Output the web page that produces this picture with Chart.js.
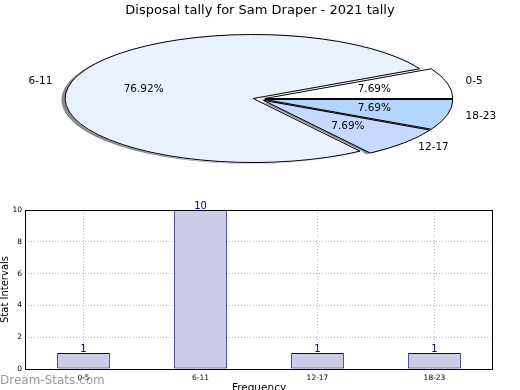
<!DOCTYPE html>
<html><head><meta charset="utf-8">
<script src="https://cdn.jsdelivr.net/npm/chart.js@4"></script>
<style>
html,body{margin:0;padding:0;background:#fff;width:520px;height:390px;overflow:hidden;}
#pieWrap{position:absolute;left:0;top:0;width:520px;height:190px;}
#barWrap{position:absolute;left:0;top:190px;width:520px;height:205px;}
canvas{display:block;}
</style></head><body>
<div id="pieWrap"><canvas id="pie" width="520" height="190"></canvas></div>
<div id="barWrap"><canvas id="bar" width="520" height="205"></canvas></div>
<script>
const categories = ['0-5', '6-11', '12-17', '18-23'];
const counts = [1, 10, 1, 1];
const yTicks = [0, 2, 4, 6, 8, 10];
const pieColors = ['#FFFFFF', '#EBF2FF', '#C6DAFF', '#B3D5FF'];
const chartTitle = 'Disposal tally for Sam Draper - 2021 tally';
const xTitle = 'Frequency';
const yTitle = 'Stat Intervals';
const watermark = 'Dream-Stats.com';

const FONT = "'DejaVu Sans', sans-serif";
const total = counts.reduce((a, b) => a + b, 0);
// pie drawn clockwise in Chart.js -> reverse order to emulate counter-clockwise
const pieOrder = [3, 2, 1, 0];
const CX = 259, CY = 99, K = 64 / 188, R = 188, EXPLODE = 6;

function arcShift(el) {
  const o = (el.options.offset || 0) / 4;
  const circ = el.endAngle - el.startAngle;
  const fix = 1 - Math.sin(Math.min(Math.PI, circ));
  const t = o * (1 + fix);
  const h = (el.startAngle + el.endAngle) / 2;
  return {dx: Math.cos(h) * t, dy: Math.sin(h) * t, h};
}
function setEllipse(ctx, el, sx, sy) {
  ctx.setTransform(1, 0, 0, 1, 0, 0);
  ctx.translate(CX + sx, CY + sy);
  ctx.scale(1, K);
  ctx.translate(-el.x, -el.y);
}
function wedgePath(ctx, el) {
  const s = arcShift(el);
  const x = el.x + s.dx, y = el.y + s.dy;
  ctx.beginPath();
  ctx.moveTo(x, y);
  ctx.arc(x, y, el.outerRadius, el.startAngle, el.endAngle);
  ctx.closePath();
}

const ellipsePlugin = {
  id: 'ellipse',
  beforeDatasetsDraw(chart) {
    const ctx = chart.ctx;
    const els = chart.getDatasetMeta(0).data;
    ctx.save();
    els.forEach(el => {
      setEllipse(ctx, el, -3.8, 1.3);
      wedgePath(ctx, el);
      ctx.fillStyle = 'rgba(60,60,62,0.6)';
      ctx.fill();
    });
    ctx.restore();
    ctx.save();
    setEllipse(ctx, els[0], 0, 0);
  },
  afterDatasetsDraw(chart) {
    const ctx = chart.ctx;
    ctx.restore();
    const els = chart.getDatasetMeta(0).data;
    ctx.save();
    els.forEach(el => {
      setEllipse(ctx, el, 0, 0);
      wedgePath(ctx, el);
      ctx.setTransform(1, 0, 0, 1, 0, 0);
      ctx.lineWidth = 1;
      ctx.strokeStyle = '#000';
      ctx.lineJoin = 'round';
      ctx.stroke();
    });
    ctx.setTransform(1, 0, 0, 1, 0, 0);
    ctx.font = '10.5px ' + FONT;
    ctx.fillStyle = '#000';
    ctx.textBaseline = 'middle';
    els.forEach((el, i) => {
      const s = arcShift(el);
      const r = el.outerRadius;
      const c = Math.cos(s.h), sn = Math.sin(s.h);
      const lx = CX + s.dx + 1.1 * r * c;
      const ly = CY + K * (s.dy + 1.1 * r * sn);
      ctx.textAlign = c > 0 ? 'left' : 'right';
      ctx.fillText(chart.data.labels[i], lx, ly);
      const px = CX + s.dx + 0.6 * r * c;
      const py = CY + K * (s.dy + 0.6 * r * sn);
      ctx.textAlign = 'center';
      const v = chart.data.datasets[0].data[i];
      ctx.fillText((v / total * 100).toFixed(2) + '%', px, py);
    });
    ctx.restore();
  }
};

new Chart(document.getElementById('pie'), {
  type: 'pie',
  data: {
    labels: pieOrder.map(i => categories[i]),
    datasets: [{
      data: pieOrder.map(i => counts[i]),
      backgroundColor: pieOrder.map(i => pieColors[i]),
      borderWidth: 0,
      clip: false,
      offset: c => {
        const circ = c.raw / total * 2 * Math.PI;
        const fix = 1 - Math.sin(Math.min(Math.PI, circ));
        return 4 * EXPLODE / (1 + fix);
      }
    }]
  },
  options: {
    responsive: false, animation: false, events: [],
    rotation: 90, radius: R,
    plugins: {
      legend: {display: false}, tooltip: {enabled: false},
      title: {display: true, text: chartTitle, color: '#000',
        font: {family: FONT, size: 13, weight: 'normal'}, padding: {top: 3, bottom: 0}}
    }
  },
  plugins: [ellipsePlugin]
});

const barPlugin = {
  id: 'barExtras',
  afterDatasetsDraw(chart) {
    const ctx = chart.ctx;
    const a = chart.chartArea;
    ctx.save();
    ctx.strokeStyle = '#000';
    ctx.lineWidth = 1;
    ctx.strokeRect(a.left + 0.5, a.top + 0.5, a.right - a.left - 1, a.bottom - a.top);
    ctx.font = '10px ' + FONT;
    ctx.fillStyle = '#000080';
    ctx.textAlign = 'center';
    ctx.textBaseline = 'alphabetic';
    chart.getDatasetMeta(0).data.forEach((el, i) => {
      ctx.fillText(String(counts[i]), el.x, el.y - 1.5);
    });
    ctx.restore();
  },
  afterDraw(chart) {
    const ctx = chart.ctx;
    ctx.save();
    ctx.font = '12px ' + FONT;
    ctx.fillStyle = 'rgba(128,128,128,0.8)';
    ctx.textAlign = 'left';
    ctx.textBaseline = 'alphabetic';
    ctx.fillText(watermark, 0, 194);
    ctx.restore();
  }
};

new Chart(document.getElementById('bar'), {
  type: 'bar',
  data: {
    labels: categories,
    datasets: [{
      data: counts,
      backgroundColor: 'rgb(204,204,230)',
      borderColor: '#000080',
      borderWidth: 1,
      borderSkipped: false,
      barPercentage: 0.45,
      categoryPercentage: 1
    }]
  },
  options: {
    responsive: false, animation: false, events: [],
    layout: {padding: {left: 0, right: 27, top: 20, bottom: 0}},
    scales: {
      x: {
        offset: true,
        grid: {offset: false, color: '#b8b8b8', drawTicks: false},
        border: {display: false, dash: [1, 2]},
        ticks: {font: {family: FONT, size: 7.5}, color: '#000', padding: 5},
        title: {display: true, text: xTitle, color: '#000', font: {family: FONT, size: 10.5}, padding: 0},
        afterFit: s => { s.height = 26; }
      },
      y: {
        min: 0, max: 10,
        afterBuildTicks: s => { s.ticks = yTicks.map(v => ({value: v})); },
        grid: {color: '#b8b8b8', drawTicks: false},
        border: {display: false, dash: [1, 2]},
        ticks: {font: {family: FONT, size: 7.5}, color: '#000', padding: 3},
        title: {display: true, text: yTitle, color: '#000', font: {family: FONT, size: 10, lineHeight: 1}, padding: 0},
        afterFit: s => { s.width = 25; }
      }
    },
    plugins: {legend: {display: false}, tooltip: {enabled: false}}
  },
  plugins: [barPlugin]
});
</script>
</body></html>
